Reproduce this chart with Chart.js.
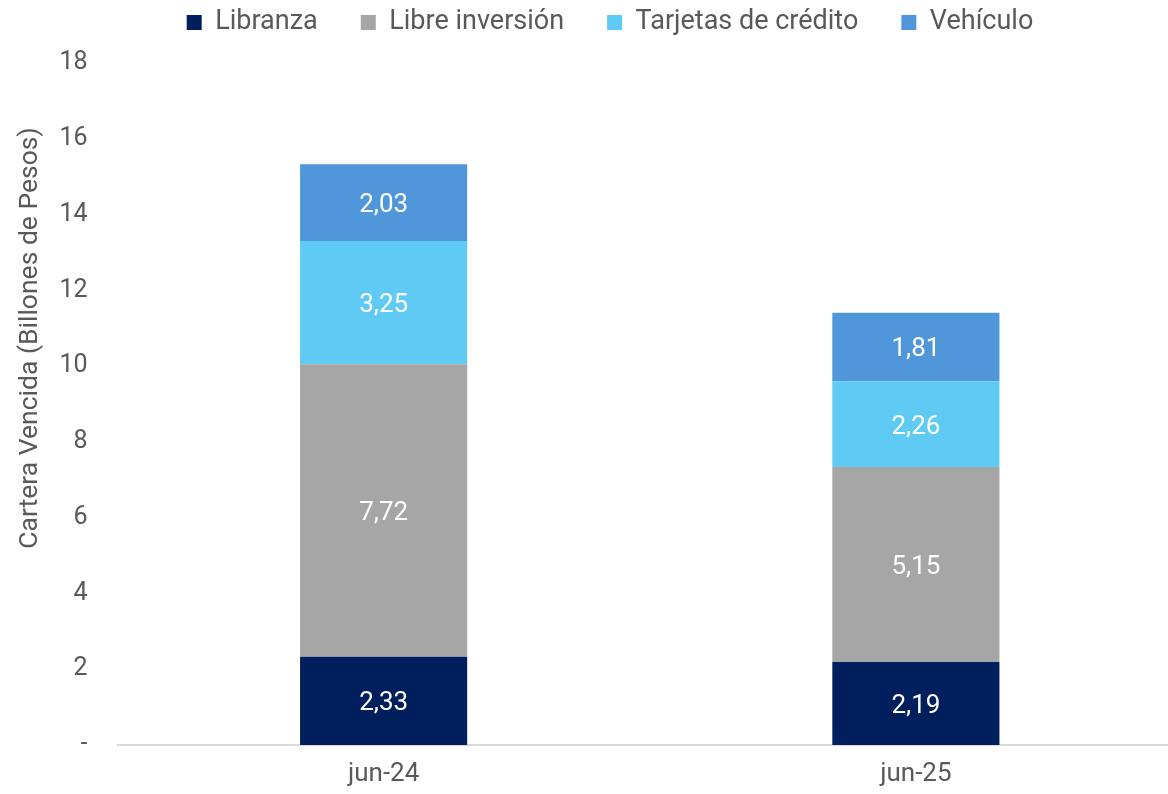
<!DOCTYPE html>
<html><head><meta charset="utf-8">
<script src="https://cdn.jsdelivr.net/npm/chart.js@4/dist/chart.umd.min.js"></script>
<style>
html,body{margin:0;padding:0;background:#fff;overflow:hidden;}
#wrap{width:1182px;height:794px;position:relative;}
</style></head><body>
<div id="wrap"><canvas id="c"></canvas></div>
<script>
const categories = ['jun-24', 'jun-25'];
const libranza = [2.33, 2.19];
const libreInversion = [7.72, 5.15];
const tarjetas = [3.25, 2.26];
const vehiculo = [2.03, 1.81];
const seriesNames = ['Libranza', 'Libre inversión', 'Tarjetas de crédito', 'Vehículo'];
const seriesColors = ['#001F5C', '#A6A6A6', '#5FCAF3', '#5096DA'];
const yTicks = [0, 2, 4, 6, 8, 10, 12, 14, 16, 18];
const yTitle = 'Cartera Vencida (Billones de Pesos)';

const FONT = 'Roboto';
const TEXT = '#595959';

const labelPlugin = {
  id: 'barLabels',
  afterDatasetsDraw(chart) {
    const ctx = chart.ctx;
    ctx.save();
    ctx.fillStyle = '#ffffff';
    ctx.font = '26px ' + FONT;
    ctx.textAlign = 'center';
    ctx.textBaseline = 'middle';
    chart.data.datasets.forEach((ds, i) => {
      const meta = chart.getDatasetMeta(i);
      meta.data.forEach((bar, j) => {
        const v = ds.data[j];
        const yMid = (bar.y + bar.base) / 2 + 3;
        ctx.fillText(v.toFixed(2).replace('.', ','), bar.x, yMid);
      });
    });
    ctx.restore();
  }
};

// y-axis title, placed above the vertical centre as in the original
const yTitlePlugin = {
  id: 'yTitle',
  afterDraw(chart) {
    const ctx = chart.ctx;
    ctx.save();
    ctx.translate(30, 338);
    ctx.rotate(-Math.PI / 2);
    ctx.fillStyle = TEXT;
    ctx.font = '26.5px ' + FONT;
    ctx.textAlign = 'center';
    ctx.textBaseline = 'middle';
    ctx.fillText(yTitle, 0, 0);
    ctx.restore();
  }
};

const legendFix = {
  id: 'legendFix',
  beforeInit(chart) {
    const orig = chart.legend.fit;
    chart.legend.fit = function () { orig.call(this); this.height += 17; };
  },
  afterLayout(chart) {
    const dx = 16;
    chart.legend.left += dx;
    chart.legend.right += dx;
  }
};

const dataSets = [libranza, libreInversion, tarjetas, vehiculo].map((d, i) => ({
  label: seriesNames[i],
  data: d,
  backgroundColor: seriesColors[i],
  borderWidth: 0,
  barPercentage: 0.314,
  categoryPercentage: 1.0
}));

new Chart(document.getElementById('c'), {
  type: 'bar',
  data: { labels: categories, datasets: dataSets },
  options: {
    responsive: true,
    maintainAspectRatio: false,
    animation: false,
    layout: { padding: { top: -34, left: 6, right: 0, bottom: 4 } },
    plugins: {
      tooltip: { enabled: false },
      legend: {
        position: 'top',
        labels: {
          font: { family: FONT, size: 27 },
          color: TEXT,
          boxWidth: 15, boxHeight: 15,
          padding: 43
        }
      }
    },
    scales: {
      x: {
        stacked: true,
        grid: { display: false, drawTicks: false },
        border: { display: true, color: '#D9D9D9', width: 2 },
        ticks: { font: { family: FONT, size: 26 }, color: TEXT, padding: 14 },
        afterFit: (s) => { s.height = 45; }
      },
      y: {
        stacked: true,
        min: 0, max: 18,
        grid: { display: false, drawTicks: false },
        border: { display: false },
        afterBuildTicks: (axis) => { axis.ticks = yTicks.map(v => ({ value: v })); },
        afterFit: (s) => { s.width = 111.5; },
        ticks: {
          font: { family: FONT, size: 25 },
          color: TEXT,
          padding: 30,
          callback: (v) => v === 0 ? '-' : String(v)
        },
        title: { display: false }
      }
    }
  },
  plugins: [labelPlugin, legendFix, yTitlePlugin]
});
</script>
</body></html>
